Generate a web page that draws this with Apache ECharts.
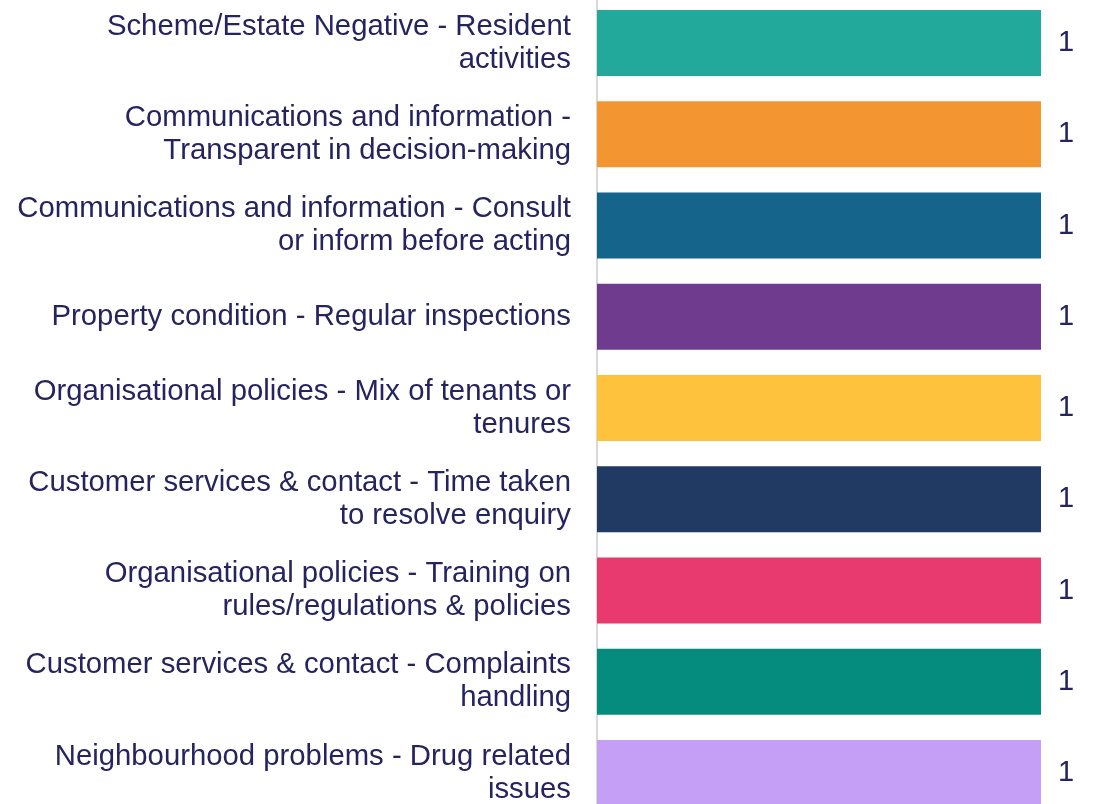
<!DOCTYPE html>
<html>
<head>
<meta charset="utf-8">
<script src="https://cdn.jsdelivr.net/npm/echarts@6/dist/echarts.min.js"></script>
<style>
  html, body { margin: 0; padding: 0; background: #fff; overflow: hidden; }
  #chart { width: 1097px; height: 830px; margin-top: -4px; }
</style>
</head>
<body>
<div id="chart"></div>
<script>
// categories as they appear top to bottom (line breaks as in the picture)
const categories = [
  'Scheme/Estate Negative - Resident\nactivities',
  'Communications and information -\nTransparent in decision-making',
  'Communications and information - Consult\nor inform before acting',
  'Property condition - Regular inspections',
  'Organisational policies - Mix of tenants or\ntenures',
  'Customer services & contact - Time taken\nto resolve enquiry',
  'Organisational policies - Training on\nrules/regulations & policies',
  'Customer services & contact - Complaints\nhandling',
  'Neighbourhood problems - Drug related\nissues'
];
const values = [1, 1, 1, 1, 1, 1, 1, 1, 1];
const barColors = ['#23a99b', '#f39530', '#14648c', '#6f3b8e', '#fec23c', '#213a63', '#e93a70', '#058c7e', '#c59ef5'];

const textColor = '#25245f';
const font = '"Liberation Sans", Arial, sans-serif';

const chart = echarts.init(document.getElementById('chart'));
chart.setOption({
  animation: false,
  grid: { left: 597, right: 56, top: 1.4, height: 821.25, containLabel: false, outerBoundsMode: 'none' },
  xAxis: {
    type: 'value', min: 0, max: 1, show: false
  },
  yAxis: {
    type: 'category',
    inverse: true,
    data: categories,
    axisLine: { show: true, lineStyle: { color: '#d9d9d9', width: 2 } },
    axisTick: { show: false },
    axisLabel: {
      color: textColor,
      fontFamily: font,
      fontSize: 29.3,
      lineHeight: 33,
      margin: 26,
      align: 'right',
      padding: [2, 0, 0, 0]
    }
  },
  series: [{
    type: 'bar',
    data: values.map((v, i) => ({ value: v, itemStyle: { color: barColors[i] } })),
    barCategoryGap: '27.7%',
    label: {
      show: true,
      position: 'right',
      distance: 17,
      color: textColor,
      fontFamily: font,
      fontSize: 29,
      padding: [4, 0, 0, 0]
    }
  }]
});
</script>
</body>
</html>
